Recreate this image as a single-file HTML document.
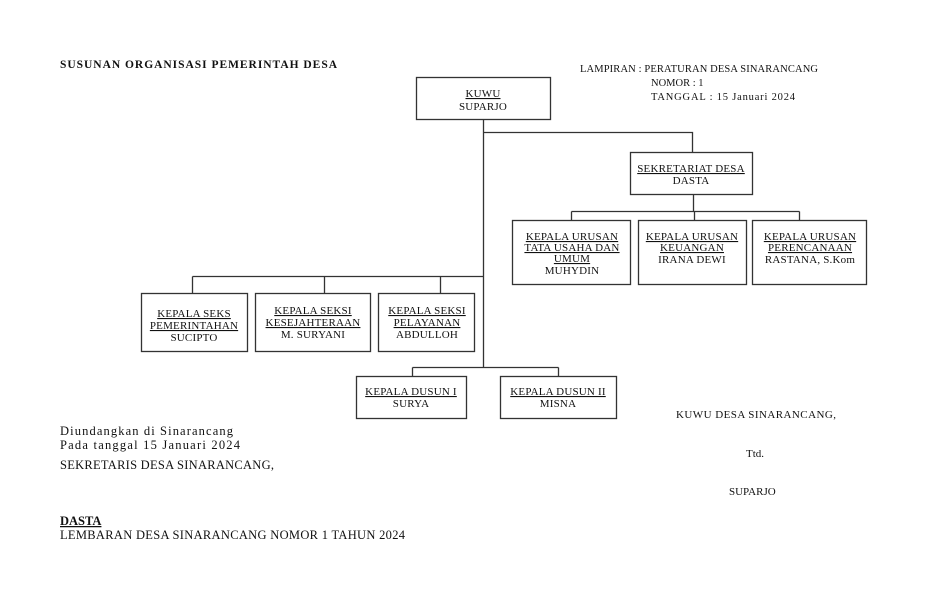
<!DOCTYPE html>
<html><head><meta charset="utf-8"><style>
html,body{margin:0;padding:0;background:#fff;}
svg{display:block;}
text{font-family:"Liberation Serif",serif;fill:#111;}
.b{font-size:11px;text-anchor:middle;letter-spacing:0.2px;}
.u{text-decoration:underline;}
</style></head><body>
<svg width="936" height="610" viewBox="0 0 936 610" xmlns="http://www.w3.org/2000/svg">
<g stroke="#333" stroke-width="1.3" fill="none">
<rect x="416.5" y="77.5" width="134" height="42"/>
<rect x="630.5" y="152.5" width="122" height="42"/>
<rect x="512.5" y="220.5" width="118" height="64"/>
<rect x="638.5" y="220.5" width="108" height="64"/>
<rect x="752.5" y="220.5" width="114" height="64"/>
<rect x="141.5" y="293.5" width="106" height="58"/>
<rect x="255.5" y="293.5" width="115" height="58"/>
<rect x="378.5" y="293.5" width="96" height="58"/>
<rect x="356.5" y="376.5" width="110" height="42"/>
<rect x="500.5" y="376.5" width="116" height="42"/>
<path d="M483.5 119.5V367.5M483.5 132.5H692.5V152.5M693.5 194.5V211.5M571.5 211.5H799.5M571.5 211.5V220.5M694.5 211.5V220.5M799.5 211.5V220.5M192.5 276.5H483.5M192.5 276.5V293.5M324.5 276.5V293.5M440.5 276.5V293.5M412.5 367.5H558.5M412.5 367.5V376.5M558.5 367.5V376.5"/>
</g>
<text x="60" y="68" font-size="11.5" font-weight="bold" textLength="277">SUSUNAN ORGANISASI  PEMERINTAH DESA</text>
<text x="580" y="72" font-size="10.5" textLength="238">LAMPIRAN  : PERATURAN DESA SINARANCANG</text>
<text x="651" y="86" font-size="10.5">NOMOR    :  1</text>
<text x="651" y="100" font-size="10.5" textLength="144">TANGGAL :  15 Januari 2024</text>

<text class="b u" x="483" y="97">KUWU</text>
<text class="b" x="483" y="110">SUPARJO</text>
<text class="b u" x="691" y="172">SEKRETARIAT DESA</text>
<text class="b" x="691" y="184">DASTA</text>

<text class="b u" x="572" y="240">KEPALA URUSAN</text>
<text class="b u" x="572" y="251">TATA USAHA DAN</text>
<text class="b u" x="572" y="262">UMUM</text>
<text class="b" x="572" y="274">MUHYDIN</text>
<text class="b u" x="692" y="240">KEPALA URUSAN</text>
<text class="b u" x="692" y="251">KEUANGAN</text>
<text class="b" x="692" y="263">IRANA DEWI</text>
<text class="b u" x="810" y="240">KEPALA  URUSAN</text>
<text class="b u" x="810" y="251">PERENCANAAN</text>
<text class="b" x="810" y="263">RASTANA, S.Kom</text>

<text class="b u" x="194" y="317">KEPALA SEKS</text>
<text class="b u" x="194" y="329">PEMERINTAHAN</text>
<text class="b" x="194" y="341">SUCIPTO</text>
<text class="b u" x="313" y="314">KEPALA SEKSI</text>
<text class="b u" x="313" y="326">KESEJAHTERAAN</text>
<text class="b" x="313" y="338">M. SURYANI</text>
<text class="b u" x="427" y="314">KEPALA SEKSI</text>
<text class="b u" x="427" y="326">PELAYANAN</text>
<text class="b" x="427" y="338">ABDULLOH</text>

<text class="b u" x="411" y="395">KEPALA DUSUN I</text>
<text class="b" x="411" y="407">SURYA</text>
<text class="b u" x="558" y="395">KEPALA DUSUN II</text>
<text class="b" x="558" y="407">MISNA</text>

<text x="60" y="435" font-size="12.5" textLength="173">Diundangkan di Sinarancang</text>
<text x="60" y="449" font-size="12.5" textLength="180">Pada tanggal  15 Januari 2024</text>
<text x="60" y="469" font-size="12.5" textLength="214">SEKRETARIS DESA SINARANCANG,</text>
<text x="60" y="525" font-size="12.5" font-weight="bold" class="u">DASTA</text>
<text x="60" y="539" font-size="12.5" textLength="345">LEMBARAN DESA SINARANCANG NOMOR 1 TAHUN 2024</text>

<text x="676" y="418" font-size="11" textLength="160">KUWU DESA SINARANCANG,</text>
<text x="746" y="457" font-size="11">Ttd.</text>
<text x="729" y="495" font-size="11">SUPARJO</text>
</svg>
</body></html>
